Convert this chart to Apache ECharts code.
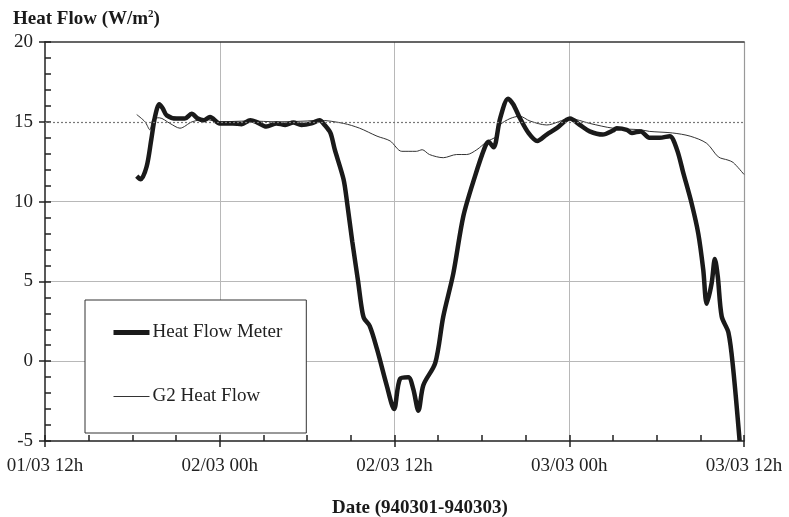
<!DOCTYPE html>
<html>
<head>
<meta charset="utf-8">
<script src="https://cdn.jsdelivr.net/npm/echarts@6/dist/echarts.min.js"></script>
<style>
  html, body { margin: 0; padding: 0; background: #fff; }
  #chart { width: 789px; height: 517px; }
</style>
</head>
<body>
<div id="chart"></div>
<script>
// hours since 01/03 12h
const tickLabels = ['01/03 12h', '02/03 00h', '02/03 12h', '03/03 00h', '03/03 12h'];

const meterHours = [6.3, 6.57, 6.98, 7.3, 7.55, 7.85, 8.08, 8.36, 9.04, 9.6, 10.07, 10.5, 10.9, 11.33, 12.0, 12.9, 13.5, 14.1, 14.5, 15.2, 15.9, 16.5, 17.05, 17.6, 18.3, 18.85, 19.2, 19.6, 19.9, 20.5, 20.75, 21.1, 21.5, 21.72, 21.9, 22.3, 22.8, 23.46, 23.97, 24.38, 24.95, 25.29, 25.64, 25.98, 26.8, 27.35, 28.04, 28.73, 29.53, 30.2, 30.45, 30.8, 31.25, 31.8, 32.15, 32.6, 33.2, 33.8, 34.45, 35.14, 36.05, 36.74, 37.4, 38.3, 39.0, 39.26, 39.95, 40.3, 40.9, 41.5, 42.2, 42.9, 43.4, 43.83, 44.4, 44.86, 45.2, 45.44, 45.78, 46.0, 46.2, 46.47, 46.93, 47.26, 47.7];
const meterValues = [11.6, 11.4, 12.2, 13.9, 15.3, 16.1, 15.85, 15.4, 15.2, 15.2, 15.5, 15.2, 15.1, 15.3, 14.9, 14.9, 14.85, 15.1, 15.0, 14.7, 14.9, 14.8, 14.95, 14.8, 14.9, 15.1, 14.8, 14.3, 13.25, 11.4, 9.9, 7.5, 5.0, 3.5, 2.7, 2.2, 0.75, -1.5, -3.0, -1.1, -1.0, -1.75, -3.1, -1.5, -0.1, 2.8, 5.5, 9.1, 11.6, 13.4, 13.75, 13.4, 15.2, 16.45, 16.1, 15.25, 14.3, 13.8, 14.2, 14.6, 15.2, 14.8, 14.4, 14.2, 14.45, 14.6, 14.5, 14.3, 14.4, 14.0, 14.0, 14.1, 13.25, 11.8, 9.9, 8.0, 5.75, 3.6, 4.9, 6.4, 5.3, 2.8, 1.8, -0.5, -5.0];

const g2Hours = [6.3, 6.87, 7.2, 7.44, 7.85, 8.58, 9.27, 10.1, 11.0, 12.0, 14.0, 16.0, 18.0, 18.8, 20.5, 21.6, 22.8, 23.7, 24.5, 25.5, 25.9, 26.4, 27.35, 28.27, 28.96, 29.65, 30.33, 31.0, 31.25, 31.93, 32.6, 33.3, 34.45, 36.05, 37.4, 39.0, 40.9, 41.5, 43.1, 44.3, 45.44, 46.24, 46.9, 47.26, 48.0];
const g2Values = [15.45, 15.0, 14.5, 15.2, 15.25, 14.9, 14.6, 15.0, 15.15, 15.0, 15.05, 15.0, 15.05, 15.1, 14.9, 14.6, 14.1, 13.8, 13.15, 13.15, 13.25, 12.95, 12.75, 12.95, 12.95, 13.25, 13.75, 14.1, 14.8, 15.2, 15.35, 15.05, 14.8, 15.2, 14.9, 14.6, 14.5, 14.4, 14.3, 14.1, 13.65, 12.8, 12.6, 12.45, 11.7];

const FONT = '"Liberation Serif", "DejaVu Serif", serif';
const pair = (xs, ys) => xs.map((x, i) => [x, ys[i]]);

const chart = echarts.init(document.getElementById('chart'), null, { renderer: 'canvas' });

// shared axis ranges
const xRange = { type: 'value', min: 0, max: 48, interval: 12 };
const yRange = { type: 'value', min: -5, max: 20, interval: 5 };
const none = { show: false };

const option = {
  backgroundColor: '#ffffff',
  animation: false,
  title: [
    {
      text: 'Heat Flow (W/m{sup|2})',
      left: 8, top: 4,
      textStyle: {
        fontFamily: FONT, fontSize: 19, fontWeight: 'bold', color: '#1a1a1a',
        rich: { sup: { fontFamily: FONT, fontSize: 11, fontWeight: 'bold', verticalAlign: 'top', padding: [0, 0, 10, 0] } }
      }
    },
    {
      text: 'Date (940301-940303)',
      left: 327, top: 494,
      textStyle: { fontFamily: FONT, fontSize: 19, fontWeight: 'bold', color: '#1a1a1a' }
    }
  ],
  grid: { left: 45, right: 45, top: 42, bottom: 76 },
  legend: {
    orient: 'vertical',
    left: 85, top: 300,
    padding: [23, 24, 27, 26],
    itemGap: 45, itemWidth: 36, itemHeight: 14,
    backgroundColor: '#ffffff',
    borderColor: '#333', borderWidth: 1,
    textStyle: { fontFamily: FONT, fontSize: 19, color: '#222', padding: [0, 0, 0, -2] },
    // hide the default circle marker, keep only the line
    data: [
      { name: 'Heat Flow Meter', itemStyle: { opacity: 0 }, lineStyle: { width: 5, color: '#1a1a1a' } },
      { name: 'G2 Heat Flow', itemStyle: { opacity: 0 }, lineStyle: { width: 1, color: '#333' } }
    ]
  },
  xAxis: [
    // main bottom axis: labels, inner ticks, minor ticks, gridlines
    Object.assign({}, xRange, {
      position: 'bottom',
      axisLine: { onZero: false, lineStyle: { color: '#222', width: 1.5 } },
      axisTick: { inside: true, length: 6, lineStyle: { color: '#222', width: 1.5 } },
      minorTick: { show: true, splitNumber: 4, length: 6, lineStyle: { color: '#222', width: 1.5 } },
      axisLabel: {
        margin: 16, fontFamily: FONT, fontSize: 19, color: '#222',
        showMinLabel: true, showMaxLabel: true,
        formatter: v => tickLabels[Math.round(v / 12)]
      },
      splitLine: { show: true, lineStyle: { color: ['rgba(0,0,0,0)', '#b8b8b8', '#b8b8b8', '#b8b8b8', 'rgba(0,0,0,0)'], width: 1 } }
    }),
    // outer half of the major ticks
    Object.assign({}, xRange, {
      position: 'bottom',
      axisLine: { show: false, onZero: false }, axisLabel: none, splitLine: none,
      axisTick: { inside: false, length: 6, lineStyle: { color: '#222', width: 1.5 } }
    }),
    // top frame line
    Object.assign({}, xRange, {
      position: 'top',
      axisLine: { onZero: false, lineStyle: { color: '#333', width: 1.5 } },
      axisTick: none, axisLabel: none, splitLine: none
    })
  ],
  yAxis: [
    Object.assign({}, yRange, {
      position: 'left',
      axisLine: { show: true, onZero: false, lineStyle: { color: '#222', width: 1.5 } },
      axisTick: { show: true, inside: true, length: 6, lineStyle: { color: '#222', width: 1.5 } },
      minorTick: { show: true, splitNumber: 5, length: 6, lineStyle: { color: '#222', width: 1.5 } },
      axisLabel: { margin: 12, fontFamily: FONT, fontSize: 19, color: '#222' },
      splitLine: { show: true, lineStyle: { color: ['rgba(0,0,0,0)', '#b8b8b8', '#b8b8b8', '#b8b8b8', 'rgba(0,0,0,0)', 'rgba(0,0,0,0)'], width: 1 } }
    }),
    Object.assign({}, yRange, {
      position: 'left',
      axisLine: { show: false, onZero: false }, axisLabel: none, splitLine: none,
      axisTick: { show: true, inside: false, length: 6, lineStyle: { color: '#222', width: 1.5 } }
    }),
    // right frame line
    Object.assign({}, yRange, {
      position: 'right',
      axisLine: { show: true, onZero: false, lineStyle: { color: '#999', width: 1.2 } },
      axisTick: none, axisLabel: none, splitLine: none
    })
  ],
  series: [
    {
      name: 'G2 Heat Flow', type: 'line',
      xAxisIndex: 0, yAxisIndex: 0,
      data: pair(g2Hours, g2Values),
      showSymbol: false, symbol: 'none', smooth: 0.3,
      lineStyle: { color: '#333', width: 1 },
      itemStyle: { color: '#333' },
      // dotted gridline at 15
      markLine: {
        silent: true, symbol: 'none', label: { show: false },
        lineStyle: { color: '#777', type: [2, 2], width: 1.2 },
        data: [{ yAxis: 15 }]
      },
      z: 3
    },
    {
      name: 'Heat Flow Meter', type: 'line',
      xAxisIndex: 0, yAxisIndex: 0,
      data: pair(meterHours, meterValues),
      showSymbol: false, symbol: 'none', smooth: 0.3,
      lineStyle: { color: '#1a1a1a', width: 4.5 },
      itemStyle: { color: '#1a1a1a' },
      z: 4
    }
  ]
};

chart.setOption(option);
</script>
</body>
</html>
